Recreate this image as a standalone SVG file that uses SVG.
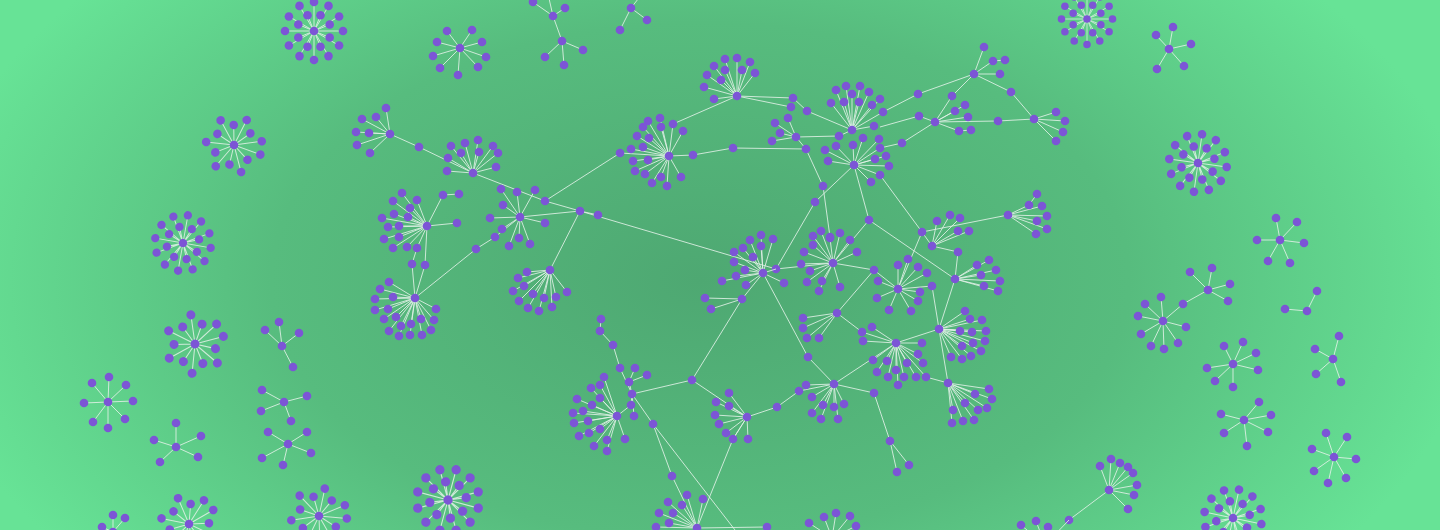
<svg xmlns="http://www.w3.org/2000/svg" xmlns:xlink="http://www.w3.org/1999/xlink" width="1440" height="530" viewBox="0 0 1440 530">
<style>
.e{stroke:#e2f1e7;stroke-width:1;fill:none;stroke-opacity:.85}
.n{fill:#7c55d6;r:4.3px}
</style>
<defs>
<radialGradient id="bg" gradientUnits="userSpaceOnUse" cx="700" cy="280" r="780" gradientTransform="translate(700 280) scale(1 0.6) translate(-700 -280)">
<stop offset="0" stop-color="#4ea872"/>
<stop offset="0.55" stop-color="#57bc7e"/>
<stop offset="1" stop-color="#67e396"/>
</radialGradient>
<g id="r20">
<path class="e" d="M0 0L29 0M0 0L25.1 14.5M0 0L14.5 25.1M0 0L0 29M0 0L-14.5 25.1M0 0L-25.1 14.5M0 0L-29 0M0 0L-25.1 -14.5M0 0L-14.5 -25.1M0 0L0 -29M0 0L14.5 -25.1M0 0L25.1 -14.5M0 0L15.7 6.5M0 0L6.5 15.7M0 0L-6.5 15.7M0 0L-15.7 6.5M0 0L-15.7 -6.5M0 0L-6.5 -15.7M0 0L6.5 -15.7M0 0L15.7 -6.5"/>
<circle class="n" cx="0" cy="0"/>
<circle class="n" cx="29" cy="0"/><circle class="n" cx="25.1" cy="14.5"/><circle class="n" cx="14.5" cy="25.1"/><circle class="n" cx="0" cy="29"/><circle class="n" cx="-14.5" cy="25.1"/><circle class="n" cx="-25.1" cy="14.5"/><circle class="n" cx="-29" cy="0"/><circle class="n" cx="-25.1" cy="-14.5"/><circle class="n" cx="-14.5" cy="-25.1"/><circle class="n" cx="0" cy="-29"/><circle class="n" cx="14.5" cy="-25.1"/><circle class="n" cx="25.1" cy="-14.5"/>
<circle class="n" cx="15.7" cy="6.5"/><circle class="n" cx="6.5" cy="15.7"/><circle class="n" cx="-6.5" cy="15.7"/><circle class="n" cx="-15.7" cy="6.5"/><circle class="n" cx="-15.7" cy="-6.5"/><circle class="n" cx="-6.5" cy="-15.7"/><circle class="n" cx="6.5" cy="-15.7"/><circle class="n" cx="15.7" cy="-6.5"/>
</g>
<g id="r13">
<path class="e" d="M0 0L28 0M0 0L17.7 9.3M0 0L15.9 23M0 0L2.4 19.9M0 0L-9.9 26.2M0 0L-15 13.3M0 0L-27.2 6.7M0 0L-19.4 -4.8M0 0L-21 -18.6M0 0L-7.1 -18.7M0 0L3.4 -27.8M0 0L11.4 -16.5M0 0L24.8 -13"/>
<circle class="n" cx="0" cy="0"/>
<circle class="n" cx="28" cy="0"/><circle class="n" cx="17.7" cy="9.3"/><circle class="n" cx="15.9" cy="23"/><circle class="n" cx="2.4" cy="19.9"/><circle class="n" cx="-9.9" cy="26.2"/><circle class="n" cx="-15" cy="13.3"/><circle class="n" cx="-27.2" cy="6.7"/><circle class="n" cx="-19.4" cy="-4.8"/><circle class="n" cx="-21" cy="-18.6"/><circle class="n" cx="-7.1" cy="-18.7"/><circle class="n" cx="3.4" cy="-27.8"/><circle class="n" cx="11.4" cy="-16.5"/><circle class="n" cx="24.8" cy="-13"/>
</g>
</defs>
<rect x="0" y="0" width="1440" height="530" fill="url(#bg)"/>

<g id="connectors" class="e">
<path d="M390 134L419 147L473 173M473 173L545 201L580 211M545 201L620 153L669 156M520 217L580 211L598 215M580 211L776 269M580 211L550 270M495 237L476 249L415 298M427 226L425 265L415 298M417 248L412 264L415 298M427 226L457 223M427 226L443 195L459 194"/>
<path d="M669 156L693 155L733 148L806 149M673 124L737 96M737 96L793 98L807 111L852 130M806 149L796 137M796 137L839 136M806 149L823 186L830 237M854 165L815 202L776 269M854 165L869 220L833 263M869 220L955 279M880 175L922 232L898 289"/>
<path d="M883 112L918 94L974 74M880 127L919 116L935 122M880 148L902 143L935 122M974 74L952 96L935 122M974 74L1011 92L1034 119M935 122L998 121L1034 119M1008 215L922 232L932 246M932 246L958 252L955 279"/>
<path d="M776 269L833 263M763 273L742 299L692 380M763 273L808 357L834 384M833 263L874 270L898 289M874 270L837 313M837 313L862 332M834 384L896 343M834 384L874 393L890 441M834 384L799 391L777 407L747 417M692 380L632 394M692 380L747 417M747 417L733 439L697 528M632 394L653 424L672 476L697 528M653 424L735 530M617 416L631 405M620 368L613 345L600 331L601 319M697 528L767 527"/>
<path d="M896 343L939 329M939 329L932 286M939 329L955 279M939 329L948 383M926 377L948 383M553 16L562 41M1109 490L1069 520"/>
</g>

<g id="connector-nodes">
<circle class="n" cx="419" cy="147"/><circle class="n" cx="545" cy="201"/><circle class="n" cx="580" cy="211"/><circle class="n" cx="598" cy="215"/><circle class="n" cx="620" cy="153"/><circle class="n" cx="693" cy="155"/><circle class="n" cx="733" cy="148"/><circle class="n" cx="806" cy="149"/><circle class="n" cx="793" cy="98"/><circle class="n" cx="807" cy="111"/><circle class="n" cx="823" cy="186"/><circle class="n" cx="815" cy="202"/><circle class="n" cx="869" cy="220"/><circle class="n" cx="918" cy="94"/><circle class="n" cx="919" cy="116"/><circle class="n" cx="902" cy="143"/><circle class="n" cx="952" cy="96"/><circle class="n" cx="1011" cy="92"/><circle class="n" cx="998" cy="121"/><circle class="n" cx="922" cy="232"/><circle class="n" cx="776" cy="269"/><circle class="n" cx="692" cy="380"/><circle class="n" cx="808" cy="357"/><circle class="n" cx="874" cy="270"/><circle class="n" cx="874" cy="393"/><circle class="n" cx="799" cy="391"/><circle class="n" cx="777" cy="407"/><circle class="n" cx="653" cy="424"/><circle class="n" cx="672" cy="476"/><circle class="n" cx="613" cy="345"/><circle class="n" cx="600" cy="331"/><circle class="n" cx="601" cy="319"/><circle class="n" cx="767" cy="527"/><circle class="n" cx="412" cy="264"/><circle class="n" cx="425" cy="265"/><circle class="n" cx="476" cy="249"/><circle class="n" cx="459" cy="194"/><circle class="n" cx="1069" cy="520"/>
</g>

<g id="hub-A"><path class="e" d="M390 134L386 108M390 134L376 117M390 134L362 119M390 134L356 132M390 134L369 133M390 134L357 145M390 134L370 153"/>
<circle class="n" cx="390" cy="134"/><circle class="n" cx="386" cy="108"/><circle class="n" cx="376" cy="117"/><circle class="n" cx="362" cy="119"/><circle class="n" cx="356" cy="132"/><circle class="n" cx="369" cy="133"/><circle class="n" cx="357" cy="145"/><circle class="n" cx="370" cy="153"/></g>

<g id="hub-B"><path class="e" d="M473 173L451 146M473 173L465 143M473 173L478 140M473 173L493 146M473 173L498 153M473 173L496 167M473 173L461 153M473 173L479 152M473 173L448 158M473 173L447 171"/>
<circle class="n" cx="473" cy="173"/><circle class="n" cx="451" cy="146"/><circle class="n" cx="465" cy="143"/><circle class="n" cx="478" cy="140"/><circle class="n" cx="493" cy="146"/><circle class="n" cx="498" cy="153"/><circle class="n" cx="496" cy="167"/><circle class="n" cx="461" cy="153"/><circle class="n" cx="479" cy="152"/><circle class="n" cx="448" cy="158"/><circle class="n" cx="447" cy="171"/></g>

<g id="hub-C"><path class="e" d="M520 217L501 189M520 217L517 192M520 217L535 190M520 217L503 205M520 217L490 218M520 217L545 223M520 217L502 229M520 217L495 237M520 217L509 246M520 217L519 238M520 217L530 244"/>
<circle class="n" cx="520" cy="217"/><circle class="n" cx="501" cy="189"/><circle class="n" cx="517" cy="192"/><circle class="n" cx="535" cy="190"/><circle class="n" cx="503" cy="205"/><circle class="n" cx="490" cy="218"/><circle class="n" cx="545" cy="223"/><circle class="n" cx="502" cy="229"/><circle class="n" cx="495" cy="237"/><circle class="n" cx="509" cy="246"/><circle class="n" cx="519" cy="238"/><circle class="n" cx="530" cy="244"/></g>

<g id="hub-F"><path class="e" d="M550 270L527 272M550 270L518 278M550 270L524 286M550 270L513 291M550 270L533 294M550 270L519 301M550 270L544 298M550 270L528 308M550 270L539 311M550 270L552 307M550 270L556 297M550 270L567 292"/>
<circle class="n" cx="550" cy="270"/><circle class="n" cx="527" cy="272"/><circle class="n" cx="518" cy="278"/><circle class="n" cx="524" cy="286"/><circle class="n" cx="513" cy="291"/><circle class="n" cx="533" cy="294"/><circle class="n" cx="519" cy="301"/><circle class="n" cx="544" cy="298"/><circle class="n" cx="528" cy="308"/><circle class="n" cx="539" cy="311"/><circle class="n" cx="552" cy="307"/><circle class="n" cx="556" cy="297"/><circle class="n" cx="567" cy="292"/></g>

<g id="hub-E"><path class="e" d="M427 226L402 193M427 226L417 200M427 226L410 208M427 226L393 201M427 226L394 214M427 226L408 217M427 226L382 218M427 226L388 227M427 226L399 226M427 226L384 239M427 226L399 237M427 226L393 248M427 226L407 247M427 226L417 248"/>
<circle class="n" cx="427" cy="226"/><circle class="n" cx="402" cy="193"/><circle class="n" cx="417" cy="200"/><circle class="n" cx="410" cy="208"/><circle class="n" cx="393" cy="201"/><circle class="n" cx="394" cy="214"/><circle class="n" cx="408" cy="217"/><circle class="n" cx="382" cy="218"/><circle class="n" cx="388" cy="227"/><circle class="n" cx="399" cy="226"/><circle class="n" cx="384" cy="239"/><circle class="n" cx="399" cy="237"/><circle class="n" cx="393" cy="248"/><circle class="n" cx="407" cy="247"/><circle class="n" cx="417" cy="248"/><circle class="n" cx="457" cy="223"/><circle class="n" cx="443" cy="195"/></g>

<g id="hub-E2"><path class="e" d="M415 298L389 282M415 298L380 289M415 298L375 299M415 298L393 297M415 298L375 310M415 298L388 309M415 298L384 319M415 298L396 317M415 298L389 331M415 298L401 326M415 298L399 336M415 298L411 324M415 298L410 335M415 298L422 335M415 298L421 319M415 298L431 330M415 298L434 320M415 298L436 309"/>
<circle class="n" cx="415" cy="298"/><circle class="n" cx="389" cy="282"/><circle class="n" cx="380" cy="289"/><circle class="n" cx="375" cy="299"/><circle class="n" cx="393" cy="297"/><circle class="n" cx="375" cy="310"/><circle class="n" cx="388" cy="309"/><circle class="n" cx="384" cy="319"/><circle class="n" cx="396" cy="317"/><circle class="n" cx="389" cy="331"/><circle class="n" cx="401" cy="326"/><circle class="n" cx="399" cy="336"/><circle class="n" cx="411" cy="324"/><circle class="n" cx="410" cy="335"/><circle class="n" cx="422" cy="335"/><circle class="n" cx="421" cy="319"/><circle class="n" cx="431" cy="330"/><circle class="n" cx="434" cy="320"/><circle class="n" cx="436" cy="309"/></g>

<g id="hub-G"><path class="e" d="M669 156L648 121M669 156L660 118M669 156L673 124M669 156L683 131M669 156L643 127M669 156L661 127M669 156L637 136M669 156L649 138M669 156L631 149M669 156L643 147M669 156L633 161M669 156L648 160M669 156L635 171M669 156L645 174M669 156L652 183M669 156L661 177M669 156L667 186M669 156L681 177"/>
<circle class="n" cx="669" cy="156"/><circle class="n" cx="648" cy="121"/><circle class="n" cx="660" cy="118"/><circle class="n" cx="673" cy="124"/><circle class="n" cx="683" cy="131"/><circle class="n" cx="643" cy="127"/><circle class="n" cx="661" cy="127"/><circle class="n" cx="637" cy="136"/><circle class="n" cx="649" cy="138"/><circle class="n" cx="631" cy="149"/><circle class="n" cx="643" cy="147"/><circle class="n" cx="633" cy="161"/><circle class="n" cx="648" cy="160"/><circle class="n" cx="635" cy="171"/><circle class="n" cx="645" cy="174"/><circle class="n" cx="652" cy="183"/><circle class="n" cx="661" cy="177"/><circle class="n" cx="667" cy="186"/><circle class="n" cx="681" cy="177"/></g>

<g id="hub-J"><path class="e" d="M737 96L725 59M737 96L737 58M737 96L750 62M737 96L755 73M737 96L714 66M737 96L725 70M737 96L742 70M737 96L707 75M737 96L721 80M737 96L704 87M737 96L714 99M737 96L791 107"/>
<circle class="n" cx="737" cy="96"/><circle class="n" cx="725" cy="59"/><circle class="n" cx="737" cy="58"/><circle class="n" cx="750" cy="62"/><circle class="n" cx="755" cy="73"/><circle class="n" cx="714" cy="66"/><circle class="n" cx="725" cy="70"/><circle class="n" cx="742" cy="70"/><circle class="n" cx="707" cy="75"/><circle class="n" cx="721" cy="80"/><circle class="n" cx="704" cy="87"/><circle class="n" cx="714" cy="99"/><circle class="n" cx="791" cy="107"/></g>

<g id="hub-s1"><path class="e" d="M796 137L788 118M796 137L775 123M796 137L780 133M796 137L772 141"/>
<circle class="n" cx="796" cy="137"/><circle class="n" cx="788" cy="118"/><circle class="n" cx="775" cy="123"/><circle class="n" cx="780" cy="133"/><circle class="n" cx="772" cy="141"/></g>

<g id="hub-I"><path class="e" d="M852 130L836 90M852 130L846 86M852 130L860 86M852 130L869 92M852 130L852 94M852 130L844 102M852 130L859 102M852 130L831 103M852 130L872 105M852 130L880 99M852 130L883 112M852 130L874 126M852 130L839 136"/>
<circle class="n" cx="852" cy="130"/><circle class="n" cx="836" cy="90"/><circle class="n" cx="846" cy="86"/><circle class="n" cx="860" cy="86"/><circle class="n" cx="869" cy="92"/><circle class="n" cx="852" cy="94"/><circle class="n" cx="844" cy="102"/><circle class="n" cx="859" cy="102"/><circle class="n" cx="831" cy="103"/><circle class="n" cx="872" cy="105"/><circle class="n" cx="880" cy="99"/><circle class="n" cx="883" cy="112"/><circle class="n" cx="874" cy="126"/><circle class="n" cx="839" cy="136"/></g>

<g id="hub-K"><path class="e" d="M854 165L825 150M854 165L836 146M854 165L853 145M854 165L863 138M854 165L879 139M854 165L880 148M854 165L886 156M854 165L889 166M854 165L875 159M854 165L880 175M854 165L871 182M854 165L828 161"/>
<circle class="n" cx="854" cy="165"/><circle class="n" cx="825" cy="150"/><circle class="n" cx="836" cy="146"/><circle class="n" cx="853" cy="145"/><circle class="n" cx="863" cy="138"/><circle class="n" cx="879" cy="139"/><circle class="n" cx="880" cy="148"/><circle class="n" cx="886" cy="156"/><circle class="n" cx="889" cy="166"/><circle class="n" cx="875" cy="159"/><circle class="n" cx="880" cy="175"/><circle class="n" cx="871" cy="182"/><circle class="n" cx="828" cy="161"/></g>

<g id="hub-L"><path class="e" d="M974 74L984 47M974 74L993 61L1005 60M974 74L1000 74"/>
<circle class="n" cx="974" cy="74"/><circle class="n" cx="984" cy="47"/><circle class="n" cx="993" cy="61"/><circle class="n" cx="1005" cy="60"/><circle class="n" cx="1000" cy="74"/></g>

<g id="hub-N"><path class="e" d="M935 122L955 111M935 122L965 105M935 122L968 117M935 122L959 131L971 130"/>
<circle class="n" cx="935" cy="122"/><circle class="n" cx="955" cy="111"/><circle class="n" cx="965" cy="105"/><circle class="n" cx="968" cy="117"/><circle class="n" cx="959" cy="131"/><circle class="n" cx="971" cy="130"/></g>

<g id="hub-M"><path class="e" d="M1034 119L1056 112M1034 119L1065 121M1034 119L1063 132M1034 119L1056 141"/>
<circle class="n" cx="1034" cy="119"/><circle class="n" cx="1056" cy="112"/><circle class="n" cx="1065" cy="121"/><circle class="n" cx="1063" cy="132"/><circle class="n" cx="1056" cy="141"/></g>

<g id="hub-R"><path class="e" d="M1008 215L1029 205L1037 194M1008 215L1042 206M1008 215L1047 216M1008 215L1037 221M1008 215L1047 229M1008 215L1036 234"/>
<circle class="n" cx="1008" cy="215"/><circle class="n" cx="1037" cy="194"/><circle class="n" cx="1029" cy="205"/><circle class="n" cx="1042" cy="206"/><circle class="n" cx="1047" cy="216"/><circle class="n" cx="1037" cy="221"/><circle class="n" cx="1047" cy="229"/><circle class="n" cx="1036" cy="234"/></g>

<g id="hub-Q"><path class="e" d="M932 246L937 221M932 246L950 215M932 246L960 218M932 246L958 231M932 246L969 231"/>
<circle class="n" cx="932" cy="246"/><circle class="n" cx="937" cy="221"/><circle class="n" cx="950" cy="215"/><circle class="n" cx="960" cy="218"/><circle class="n" cx="958" cy="231"/><circle class="n" cx="969" cy="231"/><circle class="n" cx="958" cy="252"/></g>

<g id="hub-H"><path class="e" d="M763 273L750 240M763 273L761 235M763 273L773 239M763 273L734 252M763 273L743 248M763 273L761 246M763 273L753 257M763 273L734 262M763 273L745 270M763 273L736 276M763 273L746 285M763 273L722 281M763 273L784 283M763 273L776 269M742 299L705 298M742 299L711 309"/>
<circle class="n" cx="763" cy="273"/><circle class="n" cx="750" cy="240"/><circle class="n" cx="761" cy="235"/><circle class="n" cx="773" cy="239"/><circle class="n" cx="734" cy="252"/><circle class="n" cx="743" cy="248"/><circle class="n" cx="761" cy="246"/><circle class="n" cx="753" cy="257"/><circle class="n" cx="734" cy="262"/><circle class="n" cx="745" cy="270"/><circle class="n" cx="736" cy="276"/><circle class="n" cx="746" cy="285"/><circle class="n" cx="722" cy="281"/><circle class="n" cx="784" cy="283"/><circle class="n" cx="742" cy="299"/><circle class="n" cx="705" cy="298"/><circle class="n" cx="711" cy="309"/></g>

<g id="hub-O"><path class="e" d="M833 263L813 236M833 263L821 231M833 263L830 238M833 263L840 233M833 263L850 240M833 263L857 252M833 263L804 252M833 263L813 245M833 263L801 264M833 263L810 271M833 263L807 282M833 263L822 281M833 263L819 291M833 263L840 287"/>
<circle class="n" cx="833" cy="263"/><circle class="n" cx="813" cy="236"/><circle class="n" cx="821" cy="231"/><circle class="n" cx="830" cy="238"/><circle class="n" cx="840" cy="233"/><circle class="n" cx="850" cy="240"/><circle class="n" cx="857" cy="252"/><circle class="n" cx="804" cy="252"/><circle class="n" cx="813" cy="245"/><circle class="n" cx="801" cy="264"/><circle class="n" cx="810" cy="271"/><circle class="n" cx="807" cy="282"/><circle class="n" cx="822" cy="281"/><circle class="n" cx="819" cy="291"/><circle class="n" cx="840" cy="287"/><circle class="n" cx="830" cy="237"/></g>

<g id="hub-P"><path class="e" d="M898 289L898 265M898 289L908 259M898 289L918 267M898 289L920 292M898 289L918 301M898 289L911 311M898 289L889 310M898 289L877 298M898 289L878 281M898 289L932 286M898 289L927 273"/>
<circle class="n" cx="898" cy="289"/><circle class="n" cx="898" cy="265"/><circle class="n" cx="908" cy="259"/><circle class="n" cx="918" cy="267"/><circle class="n" cx="920" cy="292"/><circle class="n" cx="918" cy="301"/><circle class="n" cx="911" cy="311"/><circle class="n" cx="889" cy="310"/><circle class="n" cx="877" cy="298"/><circle class="n" cx="878" cy="281"/><circle class="n" cx="932" cy="286"/><circle class="n" cx="927" cy="273"/></g>

<g id="hub-S"><path class="e" d="M955 279L977 265M955 279L989 260M955 279L981 275M955 279L996 270M955 279L1000 281M955 279L984 286M955 279L998 291"/>
<circle class="n" cx="955" cy="279"/><circle class="n" cx="977" cy="265"/><circle class="n" cx="989" cy="260"/><circle class="n" cx="981" cy="275"/><circle class="n" cx="996" cy="270"/><circle class="n" cx="1000" cy="281"/><circle class="n" cx="984" cy="286"/><circle class="n" cx="998" cy="291"/></g>

<g id="hub-s2"><path class="e" d="M837 313L803 318M837 313L803 328M837 313L807 338M837 313L819 338"/>
<circle class="n" cx="837" cy="313"/><circle class="n" cx="803" cy="318"/><circle class="n" cx="803" cy="328"/><circle class="n" cx="807" cy="338"/><circle class="n" cx="819" cy="338"/></g>

<g id="hub-T"><path class="e" d="M939 329L965 311M939 329L970 319M939 329L982 320M939 329L960 331M939 329L972 332M939 329L986 331M939 329L962 346M939 329L973 343M939 329L985 341M939 329L981 351M939 329L971 356M939 329L962 359M939 329L951 357"/>
<circle class="n" cx="939" cy="329"/><circle class="n" cx="965" cy="311"/><circle class="n" cx="970" cy="319"/><circle class="n" cx="982" cy="320"/><circle class="n" cx="960" cy="331"/><circle class="n" cx="972" cy="332"/><circle class="n" cx="986" cy="331"/><circle class="n" cx="962" cy="346"/><circle class="n" cx="973" cy="343"/><circle class="n" cx="985" cy="341"/><circle class="n" cx="981" cy="351"/><circle class="n" cx="971" cy="356"/><circle class="n" cx="962" cy="359"/><circle class="n" cx="951" cy="357"/></g>

<g id="hub-U"><path class="e" d="M896 343L872 327M896 343L862 332M896 343L863 341M896 343L922 343M896 343L918 354M896 343L923 363M896 343L907 363M896 343L887 361M896 343L873 360M896 343L877 372M896 343L896 370M896 343L904 377M896 343L916 377M896 343L926 377M896 343L888 377M896 343L898 385"/>
<circle class="n" cx="896" cy="343"/><circle class="n" cx="872" cy="327"/><circle class="n" cx="862" cy="332"/><circle class="n" cx="863" cy="341"/><circle class="n" cx="922" cy="343"/><circle class="n" cx="918" cy="354"/><circle class="n" cx="923" cy="363"/><circle class="n" cx="907" cy="363"/><circle class="n" cx="887" cy="361"/><circle class="n" cx="873" cy="360"/><circle class="n" cx="877" cy="372"/><circle class="n" cx="896" cy="370"/><circle class="n" cx="904" cy="377"/><circle class="n" cx="916" cy="377"/><circle class="n" cx="926" cy="377"/><circle class="n" cx="888" cy="377"/><circle class="n" cx="898" cy="385"/></g>

<g id="hub-V"><path class="e" d="M834 384L806 385M834 384L812 397M834 384L823 405M834 384L834 407M834 384L844 404M834 384L812 413M834 384L821 419M834 384L838 419"/>
<circle class="n" cx="834" cy="384"/><circle class="n" cx="806" cy="385"/><circle class="n" cx="812" cy="397"/><circle class="n" cx="823" cy="405"/><circle class="n" cx="834" cy="407"/><circle class="n" cx="844" cy="404"/><circle class="n" cx="812" cy="413"/><circle class="n" cx="821" cy="419"/><circle class="n" cx="838" cy="419"/></g>

<g id="hub-V2"><path class="e" d="M890 441L897 472M890 441L909 465"/>
<circle class="n" cx="890" cy="441"/><circle class="n" cx="897" cy="472"/><circle class="n" cx="909" cy="465"/></g>

<g id="hub-W"><path class="e" d="M948 383L989 389M948 383L975 394M948 383L992 399M948 383L965 403M948 383L978 410M948 383L987 408M948 383L953 410M948 383L974 420M948 383L963 421M948 383L952 423"/>
<circle class="n" cx="948" cy="383"/><circle class="n" cx="989" cy="389"/><circle class="n" cx="975" cy="394"/><circle class="n" cx="992" cy="399"/><circle class="n" cx="965" cy="403"/><circle class="n" cx="978" cy="410"/><circle class="n" cx="987" cy="408"/><circle class="n" cx="953" cy="410"/><circle class="n" cx="974" cy="420"/><circle class="n" cx="963" cy="421"/><circle class="n" cx="952" cy="423"/></g>

<g id="hub-Z"><path class="e" d="M747 417L729 393M747 417L716 402M747 417L729 406M747 417L715 415M747 417L719 424M747 417L726 433M747 417L733 439M747 417L748 439"/>
<circle class="n" cx="747" cy="417"/><circle class="n" cx="729" cy="393"/><circle class="n" cx="716" cy="402"/><circle class="n" cx="729" cy="406"/><circle class="n" cx="715" cy="415"/><circle class="n" cx="719" cy="424"/><circle class="n" cx="726" cy="433"/><circle class="n" cx="733" cy="439"/><circle class="n" cx="748" cy="439"/></g>

<g id="hub-X"><path class="e" d="M617 416L604 377M617 416L600 385M617 416L591 388M617 416L600 398M617 416L577 399M617 416L592 405M617 416L583 411M617 416L573 413M617 416L588 421M617 416L574 423M617 416L600 429M617 416L589 433M617 416L579 436M617 416L607 440M617 416L594 446M617 416L607 451M617 416L625 439"/>
<circle class="n" cx="617" cy="416"/><circle class="n" cx="604" cy="377"/><circle class="n" cx="600" cy="385"/><circle class="n" cx="591" cy="388"/><circle class="n" cx="600" cy="398"/><circle class="n" cx="577" cy="399"/><circle class="n" cx="592" cy="405"/><circle class="n" cx="583" cy="411"/><circle class="n" cx="573" cy="413"/><circle class="n" cx="588" cy="421"/><circle class="n" cx="574" cy="423"/><circle class="n" cx="600" cy="429"/><circle class="n" cx="589" cy="433"/><circle class="n" cx="579" cy="436"/><circle class="n" cx="607" cy="440"/><circle class="n" cx="594" cy="446"/><circle class="n" cx="607" cy="451"/><circle class="n" cx="625" cy="439"/></g>

<g id="hub-X2"><path class="e" d="M632 394L629 382M632 394L620 368M629 382L635 368M629 382L647 375M632 394L631 405M632 394L634 416"/>
<circle class="n" cx="632" cy="394"/><circle class="n" cx="629" cy="382"/><circle class="n" cx="620" cy="368"/><circle class="n" cx="635" cy="368"/><circle class="n" cx="647" cy="375"/><circle class="n" cx="631" cy="405"/><circle class="n" cx="634" cy="416"/></g>

<g id="hub-Y"><path class="e" d="M697 528L687 495M697 528L703 499M697 528L668 502M697 528L682 505M697 528L659 513M697 528L673 513M697 528L656 527M697 528L669 523"/>
<circle class="n" cx="697" cy="528"/><circle class="n" cx="687" cy="495"/><circle class="n" cx="703" cy="499"/><circle class="n" cx="668" cy="502"/><circle class="n" cx="682" cy="505"/><circle class="n" cx="659" cy="513"/><circle class="n" cx="673" cy="513"/><circle class="n" cx="656" cy="527"/><circle class="n" cx="669" cy="523"/></g>

<g id="hub-bottom"><path class="e" d="M832 538L809 523M832 538L824 517M832 538L836 513M832 538L850 516M832 538L856 526"/>
<circle class="n" cx="809" cy="523"/><circle class="n" cx="824" cy="517"/><circle class="n" cx="836" cy="513"/><circle class="n" cx="850" cy="516"/><circle class="n" cx="856" cy="526"/></g>

<g id="iso-top1"><path class="e" d="M553 16L533 2M553 16L565 8M553 16L548 -6M562 41L545 57M562 41L564 65M562 41L583 50"/>
<circle class="n" cx="553" cy="16"/><circle class="n" cx="533" cy="2"/><circle class="n" cx="565" cy="8"/><circle class="n" cx="562" cy="41"/><circle class="n" cx="545" cy="57"/><circle class="n" cx="564" cy="65"/><circle class="n" cx="583" cy="50"/></g>
<g id="iso-top2"><path class="e" d="M631 8L620 30M631 8L647 20M631 8L642 -6"/>
<circle class="n" cx="631" cy="8"/><circle class="n" cx="620" cy="30"/><circle class="n" cx="647" cy="20"/></g>

<g id="iso-1"><use href="#r20" transform="translate(314 31)"/></g>
<g id="iso-2"><path class="e" d="M460 48L447 31M460 48L472 30M460 48L437 42M460 48L482 42M460 48L486 57M460 48L440 68M460 48L458 75M460 48L478 67M460 48L433 56"/>
<circle class="n" cx="460" cy="48"/><circle class="n" cx="447" cy="31"/><circle class="n" cx="472" cy="30"/><circle class="n" cx="437" cy="42"/><circle class="n" cx="482" cy="42"/><circle class="n" cx="486" cy="57"/><circle class="n" cx="440" cy="68"/><circle class="n" cx="458" cy="75"/><circle class="n" cx="478" cy="67"/><circle class="n" cx="433" cy="56"/></g>
<g id="iso-3"><use href="#r13" transform="translate(234 145) rotate(20)"/></g>
<g id="iso-4"><use href="#r20" transform="translate(183 243) rotate(10) scale(.97)"/></g>
<g id="iso-5"><use href="#r13" transform="translate(195 344) rotate(-15) scale(1.05)"/></g>
<g id="iso-6"><path class="e" d="M108 402L92 383M108 402L109 377M108 402L126 385M108 402L133 401M108 402L125 419M108 402L108 428M108 402L93 422M108 402L84 403"/>
<circle class="n" cx="108" cy="402"/><circle class="n" cx="92" cy="383"/><circle class="n" cx="109" cy="377"/><circle class="n" cx="126" cy="385"/><circle class="n" cx="133" cy="401"/><circle class="n" cx="125" cy="419"/><circle class="n" cx="108" cy="428"/><circle class="n" cx="93" cy="422"/><circle class="n" cx="84" cy="403"/></g>
<g id="iso-7"><path class="e" d="M176 447L176 423M176 447L201 436M176 447L198 457M176 447L160 462M176 447L154 440"/>
<circle class="n" cx="176" cy="447"/><circle class="n" cx="176" cy="423"/><circle class="n" cx="201" cy="436"/><circle class="n" cx="198" cy="457"/><circle class="n" cx="160" cy="462"/><circle class="n" cx="154" cy="440"/></g>
<g id="iso-8"><path class="e" d="M282 346L265 330M282 346L279 322M282 346L299 333M282 346L293 367"/>
<circle class="n" cx="282" cy="346"/><circle class="n" cx="265" cy="330"/><circle class="n" cx="279" cy="322"/><circle class="n" cx="299" cy="333"/><circle class="n" cx="293" cy="367"/></g>
<g id="iso-9"><path class="e" d="M284 402L262 390M284 402L261 411M284 402L291 421M284 402L307 396"/>
<circle class="n" cx="284" cy="402"/><circle class="n" cx="262" cy="390"/><circle class="n" cx="261" cy="411"/><circle class="n" cx="291" cy="421"/><circle class="n" cx="307" cy="396"/></g>
<g id="iso-10"><path class="e" d="M288 444L268 432M288 444L262 458M288 444L283 465M288 444L307 432M288 444L311 453"/>
<circle class="n" cx="288" cy="444"/><circle class="n" cx="268" cy="432"/><circle class="n" cx="262" cy="458"/><circle class="n" cx="283" cy="465"/><circle class="n" cx="307" cy="432"/><circle class="n" cx="311" cy="453"/></g>
<g id="iso-11"><use href="#r13" transform="translate(319 516) rotate(5)"/></g>
<g id="iso-12"><use href="#r13" transform="translate(189 524) rotate(-30)"/></g>
<g id="iso-13"><path class="e" d="M113 532L102 527M113 532L113 515M113 532L125 518"/>
<circle class="n" cx="113" cy="532"/><circle class="n" cx="102" cy="527"/><circle class="n" cx="113" cy="515"/><circle class="n" cx="125" cy="518"/></g>
<g id="iso-14"><use href="#r20" transform="translate(448 500) rotate(15) scale(1.08)"/></g>

<g id="iso-r1"><use href="#r20" transform="translate(1087 19) scale(.88)"/></g>
<g id="iso-r2"><path class="e" d="M1169 49L1173 27M1169 49L1156 35M1169 49L1191 44M1169 49L1184 66M1169 49L1157 69"/>
<circle class="n" cx="1169" cy="49"/><circle class="n" cx="1173" cy="27"/><circle class="n" cx="1156" cy="35"/><circle class="n" cx="1191" cy="44"/><circle class="n" cx="1184" cy="66"/><circle class="n" cx="1157" cy="69"/></g>
<g id="iso-r3"><use href="#r20" transform="translate(1198 163) rotate(8)"/></g>
<g id="iso-r4"><path class="e" d="M1280 240L1276 218M1280 240L1297 222M1280 240L1304 243M1280 240L1290 263M1280 240L1268 261M1280 240L1257 240"/>
<circle class="n" cx="1280" cy="240"/><circle class="n" cx="1276" cy="218"/><circle class="n" cx="1297" cy="222"/><circle class="n" cx="1304" cy="243"/><circle class="n" cx="1290" cy="263"/><circle class="n" cx="1268" cy="261"/><circle class="n" cx="1257" cy="240"/></g>
<g id="iso-r5"><path class="e" d="M1208 290L1190 272M1208 290L1212 268M1208 290L1230 284M1208 290L1228 301M1208 290L1183 304L1163 321M1163 321L1161 297M1163 321L1145 304M1163 321L1138 316M1163 321L1141 334M1163 321L1151 346M1163 321L1164 349M1163 321L1178 343M1163 321L1186 327"/>
<circle class="n" cx="1208" cy="290"/><circle class="n" cx="1190" cy="272"/><circle class="n" cx="1212" cy="268"/><circle class="n" cx="1230" cy="284"/><circle class="n" cx="1228" cy="301"/><circle class="n" cx="1183" cy="304"/><circle class="n" cx="1163" cy="321"/><circle class="n" cx="1161" cy="297"/><circle class="n" cx="1145" cy="304"/><circle class="n" cx="1138" cy="316"/><circle class="n" cx="1141" cy="334"/><circle class="n" cx="1151" cy="346"/><circle class="n" cx="1164" cy="349"/><circle class="n" cx="1178" cy="343"/><circle class="n" cx="1186" cy="327"/></g>
<g id="iso-r6"><path class="e" d="M1307 311L1285 309M1307 311L1317 291"/>
<circle class="n" cx="1307" cy="311"/><circle class="n" cx="1285" cy="309"/><circle class="n" cx="1317" cy="291"/></g>
<g id="iso-r7"><path class="e" d="M1333 359L1339 336M1333 359L1315 349M1333 359L1316 374M1333 359L1341 382"/>
<circle class="n" cx="1333" cy="359"/><circle class="n" cx="1339" cy="336"/><circle class="n" cx="1315" cy="349"/><circle class="n" cx="1316" cy="374"/><circle class="n" cx="1341" cy="382"/></g>
<g id="iso-r8"><path class="e" d="M1233 364L1224 346M1233 364L1243 342M1233 364L1256 353M1233 364L1258 370M1233 364L1233 387M1233 364L1215 381M1233 364L1207 368"/>
<circle class="n" cx="1233" cy="364"/><circle class="n" cx="1224" cy="346"/><circle class="n" cx="1243" cy="342"/><circle class="n" cx="1256" cy="353"/><circle class="n" cx="1258" cy="370"/><circle class="n" cx="1233" cy="387"/><circle class="n" cx="1215" cy="381"/><circle class="n" cx="1207" cy="368"/></g>
<g id="iso-r9"><path class="e" d="M1244 420L1259 402M1244 420L1271 415M1244 420L1268 432M1244 420L1247 446M1244 420L1224 433M1244 420L1221 414"/>
<circle class="n" cx="1244" cy="420"/><circle class="n" cx="1259" cy="402"/><circle class="n" cx="1271" cy="415"/><circle class="n" cx="1268" cy="432"/><circle class="n" cx="1247" cy="446"/><circle class="n" cx="1224" cy="433"/><circle class="n" cx="1221" cy="414"/></g>
<g id="iso-r10"><path class="e" d="M1334 457L1326 433M1334 457L1347 437M1334 457L1356 459M1334 457L1346 478M1334 457L1328 483M1334 457L1314 471M1334 457L1312 449"/>
<circle class="n" cx="1334" cy="457"/><circle class="n" cx="1326" cy="433"/><circle class="n" cx="1347" cy="437"/><circle class="n" cx="1356" cy="459"/><circle class="n" cx="1346" cy="478"/><circle class="n" cx="1328" cy="483"/><circle class="n" cx="1314" cy="471"/><circle class="n" cx="1312" cy="449"/></g>
<g id="iso-r11"><path class="e" d="M1109 490L1100 466M1109 490L1111 459M1109 490L1120 463M1109 490L1128 467M1109 490L1133 473M1109 490L1137 485M1109 490L1134 495M1109 490L1128 509"/>
<circle class="n" cx="1109" cy="490"/><circle class="n" cx="1100" cy="466"/><circle class="n" cx="1111" cy="459"/><circle class="n" cx="1120" cy="463"/><circle class="n" cx="1128" cy="467"/><circle class="n" cx="1133" cy="473"/><circle class="n" cx="1137" cy="485"/><circle class="n" cx="1134" cy="495"/><circle class="n" cx="1128" cy="509"/></g>
<g id="iso-r12"><path class="e" d="M1045 545L1069 520M1045 545L1048 527M1045 545L1036 521M1045 545L1021 525"/>
<circle class="n" cx="1048" cy="527"/><circle class="n" cx="1036" cy="521"/><circle class="n" cx="1021" cy="525"/></g>
<g id="iso-r13"><use href="#r20" transform="translate(1233 518) rotate(12)"/></g>
</svg>
